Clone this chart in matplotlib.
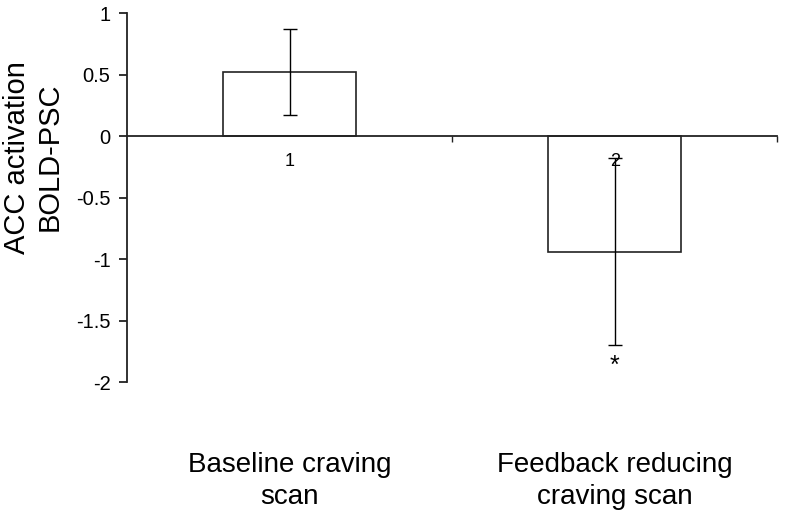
import matplotlib
matplotlib.use("Agg")
import matplotlib.pyplot as plt

plt.rcParams["font.family"] = ["Liberation Sans", "DejaVu Sans"]

# data
positions = [1, 2]
tick_labels = ["1", "2"]
categories = ["Baseline craving\nscan", "Feedback reducing\ncraving scan"]
means = [0.52, -0.94]
errors = [0.35, 0.76]
sig_marks = ["", "*"]

fig = plt.figure(figsize=(7.85, 5.25), dpi=100)
ax = fig.add_axes([0.162, 0.272, 0.828, 0.703])

ax.bar(positions, means, width=0.41, color="white", edgecolor="#222222",
       linewidth=1.2, zorder=1)
ax.errorbar(positions, means, yerr=errors, fmt="none", ecolor="black",
            elinewidth=1.0, capsize=5, capthick=1.0, zorder=3)

ax.set_xlim(0.5, 2.5)
ax.set_ylim(-2, 1)
ax.set_yticks([1, 0.5, 0, -0.5, -1, -1.5, -2])
ax.set_yticklabels(["1", "0.5", "0", "-0.5", "-1", "-1.5", "-2"], fontsize=14.5)

# x axis sits on zero, ticks at category boundaries, labels at centres
ax.spines["bottom"].set_position(("data", 0))
ax.spines["top"].set_visible(False)
ax.spines["right"].set_visible(False)
for s in ["left", "bottom"]:
    ax.spines[s].set_color("#222222")
    ax.spines[s].set_linewidth(1.3)
ax.set_xticks([1.5, 2.5])
ax.set_xticklabels([])
ax.tick_params(axis="x", direction="out", length=4, width=1, colors="#222222")
ax.tick_params(axis="y", direction="out", length=6, width=1.3, colors="#222222",
               labelcolor="black", pad=6)
ax.set_xticks(positions, minor=True)
ax.set_xticklabels(tick_labels, minor=True, fontsize=13)
ax.tick_params(axis="x", which="minor", length=0, pad=12)

ax.set_ylabel("ACC activation\nBOLD-PSC", fontsize=21, linespacing=1.2)
ax.yaxis.set_label_coords(-0.098, 0.61)

trans = ax.get_xaxis_transform()
for x, lab in zip(positions, categories):
    ax.text(x, -0.19, lab, transform=trans, ha="center", va="top",
            fontsize=20, linespacing=1.3)

for x, m, e, mark in zip(positions, means, errors, sig_marks):
    if mark:
        ax.text(x, m - e - 0.07, mark, ha="center", va="top", fontsize=18)

fig.savefig("out.png", dpi=100)
